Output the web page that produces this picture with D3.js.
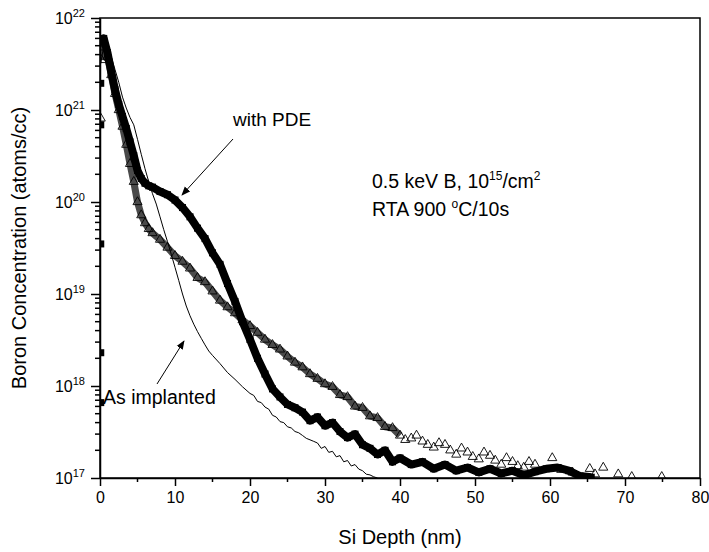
<!DOCTYPE html>
<html lang="en">
<head>
<meta charset="UTF-8" />
<title>boron profile</title>
<style>
  body { margin: 0; background: #fff; }
  text { font-family: "Liberation Sans", Arial, sans-serif; fill: #000; }
</style>
</head>
<body>
<svg width="709" height="552" id="mainsvg"></svg>
<script src="https://cdn.jsdelivr.net/npm/d3@7"></script>
<script>
// with PDE (filled squares)
const pdeDepth = [0.2, 0.5, 1, 1.5, 2, 2.5, 3, 3.5, 4, 4.5, 5, 5.5, 6, 6.5, 7,
  8, 9, 10, 11, 12, 13, 14, 15, 16, 17, 18, 19, 20, 21, 22, 23, 24,
  25, 26, 27, 28, 29, 30, 31, 32, 33, 34, 35, 36, 37, 38, 39, 40,
  41.5, 43, 44.5, 46, 47.5, 49, 50.5, 52, 53.5, 55, 56.5, 58, 59.5, 61, 62.5, 64, 65.5]
const pdeConc = [5.5e21, 6.0e21, 4.2e21, 2.6e21, 1.66e21, 1.15e21, 8.5e20, 6.3e20, 4.5e20, 3.2e20, 2.2e20, 1.8e20, 1.6e20, 1.5e20, 1.45e20,
  1.3e20, 1.2e20, 1.05e20, 8.7e19, 6.9e19, 5.2e19, 4.0e19, 2.8e19, 2.1e19, 1.3e19, 8.3e18, 5.0e18, 3.2e18, 2.0e18, 1.35e18, 9.3e17, 7.6e17,
  6.3e17, 5.8e17, 5.2e17, 4.2e17, 4.6e17, 3.7e17, 4.0e17, 3.2e17, 2.75e17, 3.0e17, 2.3e17, 2.1e17, 1.8e17, 2.0e17, 1.5e17, 1.65e17,
  1.4e17, 1.5e17, 1.26e17, 1.4e17, 1.2e17, 1.3e17, 1.15e17, 1.26e17, 1.12e17, 1.2e17, 1.07e17, 1.17e17, 1.26e17, 1.3e17, 1.2e17, 1.05e17, 1.02e17]
// surface points of the PDE profile (first SIMS cycles)
const pdeSurfDepth = [0.1, 0.1, 0.1, 0.1, 0.1]
const pdeSurfConc = [6.6e17, 2.3e18, 3.5e19, 6.9e20, 1.95e21]

// without PDE (open triangles)
const rtaDepth = [0.2, 0.5, 1, 1.5, 2, 2.5, 3, 3.5, 4, 4.5, 5, 5.5, 6, 6.5, 7,
  8, 9, 10, 11, 12, 13, 14, 15, 16, 17, 18, 19, 20, 21, 22, 23, 24, 25, 26, 27, 28, 29, 30,
  31, 32, 33, 34, 35, 36, 37, 38, 39, 40,
  40.7, 41.5, 42.2, 43, 43.7, 44.5, 45.2, 46, 46.7, 47.5, 48.2, 49, 49.7, 50.5, 51.2, 52, 52.7, 53.5,
  54.2, 55, 55.7, 56.5, 57.2, 58,
  60.3, 61.5, 63, 65.3, 66, 67.1, 69.1, 70.9, 74.9]
const rtaConc = [3.5e21, 4.8e21, 3.8e21, 2.4e21, 1.5e21, 1.0e21, 6.6e20, 4.2e20, 2.6e20, 1.66e20, 1.0e20, 7.2e19, 5.9e19, 5.1e19, 4.6e19,
  3.9e19, 3.2e19, 2.6e19, 2.25e19, 1.9e19, 1.5e19, 1.35e19, 1.07e19, 8.5e18, 7.2e18, 6.2e18, 5.2e18, 4.5e18, 3.8e18, 3.2e18, 2.8e18, 2.5e18, 2.1e18, 1.8e18, 1.6e18, 1.35e18, 1.2e18, 1.05e18,
  9.8e17, 8.0e17, 7.6e17, 6.0e17, 5.8e17, 4.7e17, 4.5e17, 3.6e17, 3.5e17, 2.9e17,
  2.6e17, 2.7e17, 2.9e17, 2.5e17, 2.3e17, 2.15e17, 2.4e17, 2.3e17, 2.0e17, 1.8e17, 2.1e17, 1.9e17, 1.7e17, 1.6e17, 1.9e17, 1.75e17, 1.55e17, 1.4e17,
  1.65e17, 1.5e17, 1.35e17, 1.3e17, 1.5e17, 1.4e17,
  1.65e17, 1.23e17, 1.15e17, 1.26e17, 1.1e17, 1.3e17, 1.1e17, 1.03e17, 1.03e17]
const rtaSurfDepth = [0.1]
const rtaSurfConc = [8.1e20]

// as implanted (thin line)
const impDepth = [0.1, 0.5, 1, 1.5, 2, 2.5, 3, 3.5, 4, 4.5, 5, 5.5, 6, 6.5, 7, 7.5, 8, 8.5, 9, 9.5,
  10, 10.5, 11, 11.5, 12, 12.5, 13, 13.5, 14, 14.5, 15, 16, 17, 18, 19, 20,
  20.5, 21, 21.5, 22, 22.5, 23, 23.5, 24, 24.5, 25, 25.5, 26, 26.5, 27, 27.5, 28, 28.5, 29, 29.5,
  30, 30.5, 31, 31.5, 32, 32.5, 33, 33.5, 34, 34.5, 35, 35.5, 36, 36.5, 37]
const impConc = [3.2e21, 5.0e21, 4.8e21, 3.8e21, 2.75e21, 2.0e21, 1.38e21, 1.05e21, 8.3e20, 6.9e20, 4.8e20, 3.3e20, 2.3e20, 1.66e20, 1.23e20, 9.5e19, 6.9e19, 5.0e19, 3.7e19, 2.7e19,
  1.95e19, 1.4e19, 1.0e19, 7.4e18, 5.8e18, 4.7e18, 3.9e18, 3.3e18, 2.8e18, 2.4e18, 2.15e18, 1.75e18, 1.4e18, 1.18e18, 9.8e17, 8.3e17,
  7.9e17, 6.8e17, 6.6e17, 5.9e17, 5.6e17, 4.8e17, 4.6e17, 4.1e17, 4.0e17, 3.6e17, 3.5e17, 3.2e17, 3.1e17, 2.9e17, 2.7e17, 2.6e17, 2.5e17, 2.4e17, 2.1e17,
  2.2e17, 1.9e17, 1.95e17, 1.7e17, 1.75e17, 1.5e17, 1.55e17, 1.35e17, 1.4e17, 1.25e17, 1.2e17, 1.1e17, 1.08e17, 1.03e17, 1.0e17]

const xTicks = [0, 10, 20, 30, 40, 50, 60, 70, 80]
const yExponents = [17, 18, 19, 20, 21, 22]

const svg = d3.select("#mainsvg")
const margin = { left: 100, top: 18, right: 9, bottom: 74 }
const width = +svg.attr("width") - margin.left - margin.right
const height = +svg.attr("height") - margin.top - margin.bottom

const x = d3.scaleLinear().domain([0, 80]).range([margin.left, margin.left + width])
const y = d3.scaleLog().domain([1e17, 1e22]).range([margin.top + height, margin.top])

const zip = (ds, cs) => ds.map((d, i) => ({ d: d, c: cs[i] }))
const pde = zip(pdeDepth, pdeConc)
const rta = zip(rtaDepth, rtaConc)
const imp = zip(impDepth, impConc)

const defs = svg.append("defs")
defs.append("clipPath").attr("id", "plotclip")
  .append("rect")
  .attr("x", x(0)).attr("y", y(1e22))
  .attr("width", x(80) - x(0)).attr("height", y(1e17) - y(1e22))

defs.append("marker")
  .attr("id", "arrow")
  .attr("viewBox", "0 0 10 10")
  .attr("refX", 9).attr("refY", 5)
  .attr("markerWidth", 9).attr("markerHeight", 9)
  .attr("markerUnits", "userSpaceOnUse")
  .attr("orient", "auto")
  .append("path")
  .attr("d", "M0,1 L10,5 L0,9 Z")
  .attr("fill", "#000")

const plot = svg.append("g").attr("clip-path", "url(#plotclip)")
const line = d3.line().x((p) => x(p.d)).y((p) => y(p.c))

// triangles: dark band + open triangles
plot.append("path")
  .datum(rta.filter((p) => p.d <= 40))
  .attr("d", line)
  .attr("fill", "none")
  .attr("stroke", "#4a4a4a")
  .attr("stroke-width", 7)
  .attr("stroke-linejoin", "round")

const tri = d3.symbol().type(d3.symbolTriangle).size(36)
plot.selectAll("path.tri")
  .data(rta.concat(zip(rtaSurfDepth, rtaSurfConc)))
  .join("path")
  .attr("class", "tri")
  .attr("d", tri)
  .attr("transform", (p) => `translate(${x(p.d)},${y(p.c)})`)
  .attr("fill", "none")
  .attr("stroke", "#000")
  .attr("stroke-width", 0.9)

// as implanted
plot.append("path")
  .datum(imp)
  .attr("d", line)
  .attr("fill", "none")
  .attr("stroke", "#000")
  .attr("stroke-width", 1)

// squares: thick line + filled squares
plot.append("path")
  .datum(pde)
  .attr("d", line)
  .attr("fill", "none")
  .attr("stroke", "#000")
  .attr("stroke-width", 8)
  .attr("stroke-linejoin", "round")

const sq = 7
plot.selectAll("rect.sq")
  .data(pde.concat(zip(pdeSurfDepth, pdeSurfConc)))
  .join("rect")
  .attr("class", "sq")
  .attr("x", (p) => x(p.d) - sq / 2)
  .attr("y", (p) => y(p.c) - sq / 2)
  .attr("width", sq).attr("height", sq)
  .attr("fill", "#000")

// frame
svg.append("rect")
  .attr("x", x(0)).attr("y", y(1e22))
  .attr("width", x(80) - x(0)).attr("height", y(1e17) - y(1e22))
  .attr("fill", "none").attr("stroke", "#000").attr("stroke-width", 1.5)

// bottom axis
const xMinor = d3.range(5, 80, 10)
const gx = svg.append("g").attr("transform", `translate(0,${y(1e17)})`)
gx.call(d3.axisBottom(x).tickValues(xTicks).tickSize(8).tickSizeOuter(0).tickPadding(6).tickFormat(d3.format("d")))
gx.selectAll("line").attr("stroke-width", 1.5)
gx.select(".domain").attr("stroke-width", 1.5)
gx.selectAll("text").attr("font-size", 16).attr("font-family", "Liberation Sans, Arial, sans-serif")
gx.selectAll(".minor").data(xMinor).join("line")
  .attr("class", "minor")
  .attr("x1", (d) => x(d)).attr("x2", (d) => x(d))
  .attr("y1", 0).attr("y2", 4)
  .attr("stroke", "#000").attr("stroke-width", 1.5)

// left axis (log, with minor ticks)
const yMinor = []
yExponents.slice(0, -1).forEach((e) => {
  for (let m = 2; m <= 9; m++) yMinor.push(m * Math.pow(10, e))
})
const gy = svg.append("g").attr("transform", `translate(${x(0)},0)`)
gy.call(d3.axisLeft(y).tickValues(yExponents.map((e) => Math.pow(10, e))).tickSize(9).tickSizeOuter(0).tickFormat(""))
gy.selectAll("line").attr("stroke-width", 1.5)
gy.select(".domain").attr("stroke-width", 1.5)
gy.selectAll(".minor").data(yMinor).join("line")
  .attr("class", "minor")
  .attr("x1", -5).attr("x2", 0)
  .attr("y1", (d) => y(d)).attr("y2", (d) => y(d))
  .attr("stroke", "#000").attr("stroke-width", 1.5)

const ylab = gy.selectAll(".lab").data(yExponents).join("text")
  .attr("class", "lab")
  .attr("x", -15)
  .attr("y", (e) => y(Math.pow(10, e)) + 6)
  .attr("text-anchor", "end")
  .attr("font-size", 16)
ylab.append("tspan").text("10")
ylab.append("tspan").attr("dy", -7).attr("font-size", 11).text((e) => e)

// axis titles
svg.append("text")
  .attr("x", (x(0) + x(80)) / 2).attr("y", 544)
  .attr("text-anchor", "middle").attr("font-size", 20)
  .text("Si Depth (nm)")
svg.append("text")
  .attr("transform", `translate(26,${(y(1e17) + y(1e22)) / 2}) rotate(-90)`)
  .attr("text-anchor", "middle").attr("font-size", 20)
  .text("Boron Concentration (atoms/cc)")

// annotations
svg.append("text").attr("x", 233).attr("y", 126).attr("font-size", 19).text("with PDE")
svg.append("line")
  .attr("x1", 233).attr("y1", 139).attr("x2", 182).attr("y2", 195)
  .attr("stroke", "#000").attr("stroke-width", 1).attr("marker-end", "url(#arrow)")

const t1 = svg.append("text").attr("x", 372).attr("y", 188).attr("font-size", 19.5)
t1.append("tspan").text("0.5 keV B, 10")
t1.append("tspan").attr("dy", -8).attr("font-size", 12).text("15")
t1.append("tspan").attr("dy", 8).text("/cm")
t1.append("tspan").attr("dy", -8).attr("font-size", 12).text("2")

const t2 = svg.append("text").attr("x", 372).attr("y", 216).attr("font-size", 19.5)
t2.append("tspan").text("RTA 900 ")
t2.append("tspan").attr("dy", -8).attr("font-size", 12).text("o")
t2.append("tspan").attr("dy", 8).text("C/10s")

svg.append("text").attr("x", 103).attr("y", 404).attr("font-size", 19.5).text("As implanted")
svg.append("line")
  .attr("x1", 157).attr("y1", 384).attr("x2", 184).attr("y2", 341)
  .attr("stroke", "#000").attr("stroke-width", 1).attr("marker-end", "url(#arrow)")
</script>
</body>
</html>
